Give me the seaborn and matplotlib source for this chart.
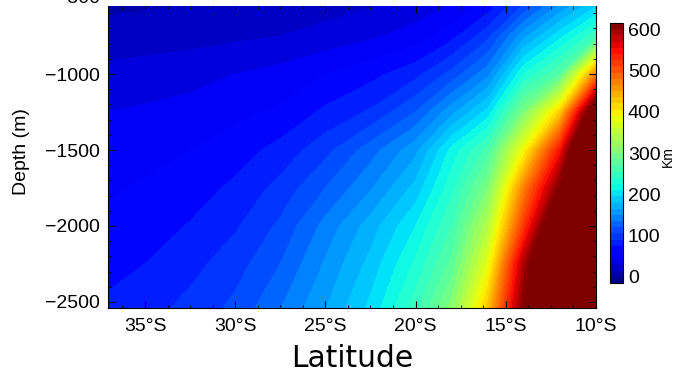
import numpy as np
import matplotlib
matplotlib.use("Agg")
import matplotlib.pyplot as plt
from matplotlib.ticker import FuncFormatter, MultipleLocator
import seaborn as sns

# grid (km), rows = depth, columns = latitude
latitudes = [-37.2, -35, -32.5, -30, -27.5, -25, -22.5, -20, -18, -16, -14, -12, -10]
depths = [-540, -750, -1000, -1250, -1500, -1750, -2000, -2250, -2560]
km_values = [
    [12, 13, 15, 17, 20, 24, 28, 35, 45, 65, 105, 150, 190],
    [20, 22, 24, 27, 30, 35, 42, 52, 70, 100, 160, 205, 250],
    [35, 37, 40, 45, 50, 60, 70, 85, 110, 145, 225, 270, 470],
    [45, 47, 50, 56, 63, 78, 92, 120, 160, 200, 300, 420, 680],
    [52, 55, 60, 68, 80, 100, 128, 160, 215, 260, 390, 545, 800],
    [58, 62, 68, 78, 95, 120, 148, 185, 235, 300, 470, 620, 850],
    [63, 68, 76, 88, 108, 140, 172, 210, 255, 340, 520, 700, 900],
    [70, 75, 85, 98, 120, 152, 185, 228, 275, 380, 590, 750, 950],
    [78, 85, 95, 110, 135, 165, 200, 250, 310, 430, 620, 800, 1000],
]
lat_ticks = [-35, -30, -25, -20, -15, -10]
depth_ticks = [-2500, -2000, -1500, -1000]
cbar_ticks = [0, 100, 200, 300, 400, 500, 600]

sns.set_theme(style="white")
plt.rcParams["font.family"] = ["Liberation Sans", "DejaVu Sans"]
plt.rcParams["text.color"] = "black"

fig = plt.figure(figsize=(6.8, 3.74), dpi=100)
ax = fig.add_axes([108 / 680, 1 - 308 / 374, (596 - 108) / 680, (308 - 6) / 374])
cax = fig.add_axes([610 / 680, 1 - 283 / 374, 13 / 680, 260 / 374])

levels = np.arange(-15, 616, 15)
jet = matplotlib.colormaps["jet"]
cmap = jet.with_extremes(over=jet(1.0))
cs = ax.contourf(latitudes, depths, km_values, levels=levels, cmap=cmap, extend="max")

ax.set_axisbelow(False)  # ticks drawn over the filled contours
ax.set_xlim(-37.05, -10)
ax.set_ylim(-2540, -552)
ax.set_xticks(lat_ticks)
ax.xaxis.set_major_formatter(FuncFormatter(lambda v, p: f"{abs(v):.0f}°S"))
ax.xaxis.set_minor_locator(MultipleLocator(1.25))
ax.set_yticks(depth_ticks)
ax.yaxis.set_minor_locator(MultipleLocator(100))
ax.tick_params(which="both", direction="in", bottom=True, left=True, top=True, right=True,
               color="black", labelsize=14, labelcolor="black")
ax.tick_params(which="major", length=5, width=0.8)
ax.tick_params(which="minor", length=2.5, width=0.6)
ax.tick_params(axis="x", pad=7)
ax.tick_params(axis="y", pad=5.5)
for name, sp in ax.spines.items():
    sp.set_color("black")
    sp.set_linewidth(0.8)
ax.spines["top"].set_visible(False)

# tick label sitting just above the cropped top edge
ax.annotate("\u2212500", xy=(0, -500), xycoords=("axes fraction", "data"),
            xytext=(-5.8, 0), textcoords="offset points", ha="right", va="center",
            fontsize=14, annotation_clip=False)

fig.text(22 / 680, 1 - 152 / 374, "Depth (m)", rotation=90, ha="center", va="center",
         fontsize=14)
fig.text(352 / 680, 1 - 367 / 374, "Latitude", ha="center", va="baseline",
         fontsize=21.4, family="DejaVu Sans")

# banded colour bar without the extension triangle
sm = matplotlib.cm.ScalarMappable(norm=cs.norm, cmap=jet)
cbar = fig.colorbar(sm, cax=cax, boundaries=levels,
                    values=(levels[:-1] + levels[1:]) / 2, ticks=cbar_ticks)
cbar.ax.tick_params(labelsize=14, length=0, pad=3.5, labelcolor="black")
cbar.outline.set_edgecolor("black")
cbar.outline.set_linewidth(0.8)
fig.text(668 / 680, 1 - 157 / 374, "Km", rotation=90, ha="center", va="center",
         fontsize=10)

fig.savefig("out.png", dpi=100)
plt.close(fig)
